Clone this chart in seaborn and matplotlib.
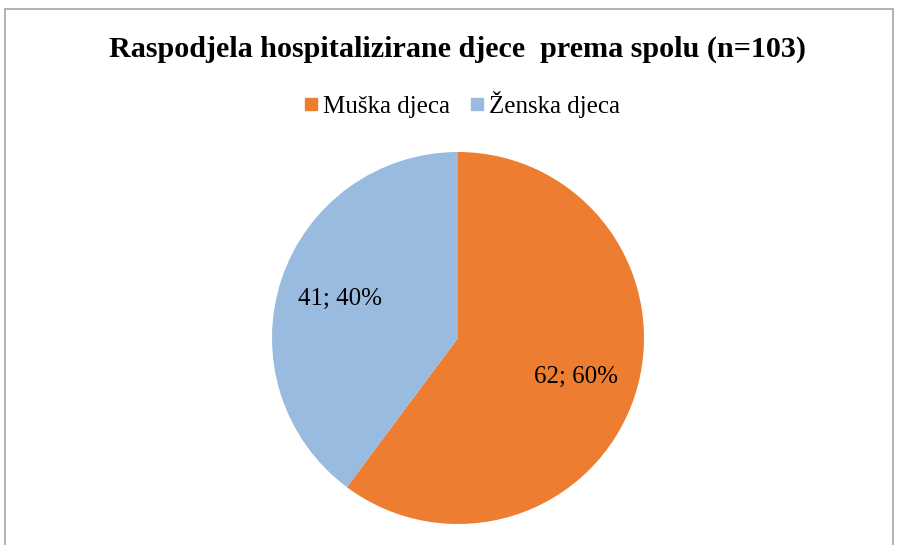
import matplotlib
matplotlib.use('Agg')
import seaborn as sns
import matplotlib.pyplot as plt
from matplotlib.lines import Line2D

# Data
categories = ['Muška djeca', 'Ženska djeca']
counts = [62, 41]
colors = ['#ED7D31', '#9ABBE0']
title = 'Raspodjela hospitalizirane djece  prema spolu (n=103)'

sns.set_theme(style='white')
plt.rcParams['font.family'] = ['Liberation Serif', 'DejaVu Serif']
plt.rcParams['text.color'] = 'black'

total = sum(counts)

fig = plt.figure(figsize=(9, 5.45), dpi=100)

# Pie: centre ~ (458, 338) px, radius ~186 px
ax = fig.add_axes([(458 - 186) / 900, (545 - 338 - 186) / 545, 372 / 900, 372 / 545])
ax.pie(counts, colors=colors, startangle=90, counterclock=False,
       autopct=lambda p: f"{round(p * total / 100):.0f}; {p:.0f}%",
       pctdistance=0.67, textprops={'fontsize': 18, 'color': 'black'},
       wedgeprops={'linewidth': 0})
ax.set_xlim(-1, 1)
ax.set_ylim(-1, 1)
ax.set_aspect('auto')
ax.axis('off')

# Title
fig.text(458 / 900, 1 - 49 / 545, title, ha='center', va='center',
         fontsize=21.7, fontweight='bold', color='black')

# Legend
handles = [Line2D([], [], marker='s', linestyle='', markersize=9,
                  markerfacecolor=c, markeredgecolor=c) for c in colors]
leg = fig.legend(handles, categories, loc='center', bbox_to_anchor=(461 / 900, 1 - 104 / 545),
                 ncol=2, frameon=False, fontsize=18, handletextpad=0.15, columnspacing=0.7,
                 handlelength=0.7)
for t in leg.get_texts():
    t.set_color('black')

# Chart-area border
border_color = '#A6A6A6'
fig.add_artist(Line2D([4.5 / 900, 4.5 / 900], [0, 1 - 9 / 545], color=border_color, lw=1.2,
                      transform=fig.transFigure))
fig.add_artist(Line2D([4.5 / 900, 893 / 900], [1 - 9 / 545, 1 - 9 / 545], color=border_color, lw=1.2,
                      transform=fig.transFigure))
fig.add_artist(Line2D([893 / 900, 893 / 900], [0, 1 - 9 / 545], color=border_color, lw=1.2,
                      transform=fig.transFigure))

fig.savefig('out.png', dpi=100, facecolor='white')
